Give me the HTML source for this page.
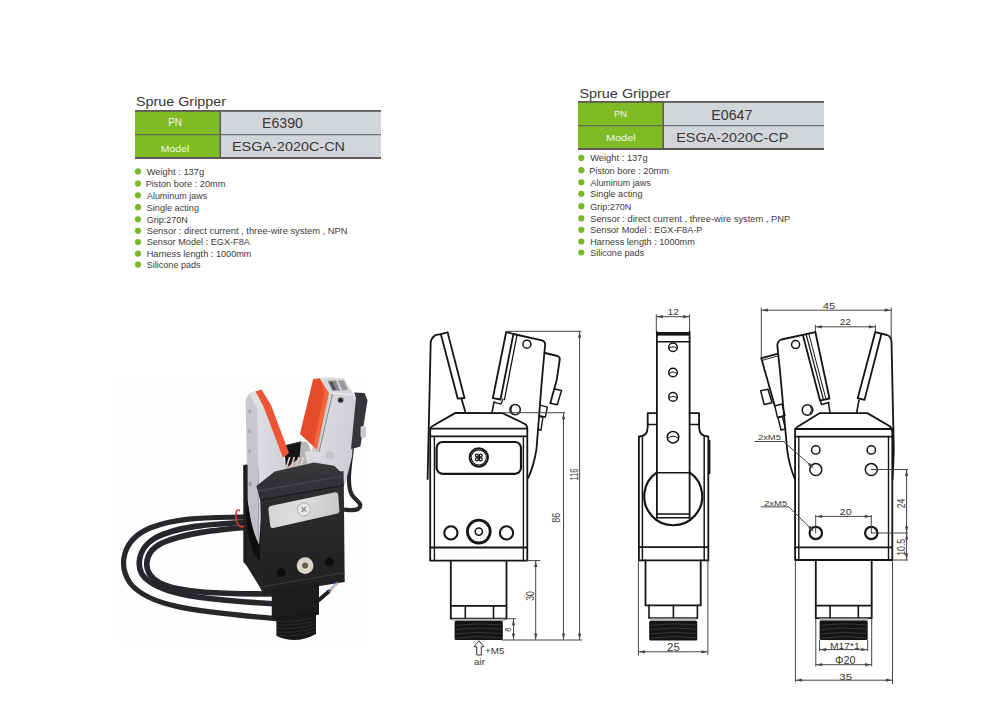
<!DOCTYPE html>
<html><head><meta charset="utf-8">
<style>
html,body{margin:0;padding:0;background:#fff;width:994px;height:710px;overflow:hidden}
svg{display:block;font-family:"Liberation Sans",sans-serif}
</style></head><body>
<svg width="994" height="710" viewBox="0 0 994 710">
<!-- LEFT SPEC BLOCK -->
<g id="specL">
<text x="136" y="106" font-size="12.2" textLength="90" lengthAdjust="spacingAndGlyphs" fill="#3a3434">Sprue Gripper</text>
<rect x="135" y="110" width="246" height="49" fill="#5e5858"/>
<rect x="135" y="111.8" width="84.5" height="22.4" fill="#7ebb25"/>
<rect x="135" y="135.2" width="84.5" height="21.8" fill="#7ebb25"/>
<rect x="221" y="111.8" width="160" height="22.4" fill="#d2d6da"/>
<rect x="221" y="135.2" width="160" height="21.8" fill="#d2d6da"/>
<text x="175.1" y="126" font-size="10" textLength="13.8" lengthAdjust="spacingAndGlyphs" text-anchor="middle" fill="#f4f8ee">PN</text>
<text x="175" y="151.8" font-size="9.6" text-anchor="middle" fill="#f4f8ee" textLength="28.7" lengthAdjust="spacingAndGlyphs">Model</text>
<text x="262" y="127.7" font-size="14" textLength="41" lengthAdjust="spacingAndGlyphs" fill="#3a3434">E6390</text>
<text x="232" y="150.8" font-size="12.8" textLength="113" lengthAdjust="spacingAndGlyphs" fill="#3a3434">ESGA-2020C-CN</text>
</g>
<g id="specR">
<text x="579.4" y="97.5" font-size="12.2" textLength="90.6" lengthAdjust="spacingAndGlyphs" fill="#3a3434">Sprue Gripper</text>
<rect x="578" y="101" width="246" height="49" fill="#5e5858"/>
<rect x="578" y="102.8" width="84.5" height="22.4" fill="#7ebb25"/>
<rect x="578" y="126.2" width="84.5" height="21.8" fill="#7ebb25"/>
<rect x="664" y="102.8" width="160" height="22.4" fill="#d2d6da"/>
<rect x="664" y="126.2" width="160" height="21.8" fill="#d2d6da"/>
<text x="620.5" y="117.3" font-size="9.4" textLength="13.2" lengthAdjust="spacingAndGlyphs" text-anchor="middle" fill="#f4f8ee">PN</text>
<text x="620.8" y="141.2" font-size="9.6" text-anchor="middle" fill="#f4f8ee" textLength="29.6" lengthAdjust="spacingAndGlyphs">Model</text>
<text x="711.3" y="119.9" font-size="14" textLength="41" lengthAdjust="spacingAndGlyphs" fill="#3a3434">E0647</text>
<text x="676.2" y="142.1" font-size="12.8" textLength="112.1" lengthAdjust="spacingAndGlyphs" fill="#3a3434">ESGA-2020C-CP</text>
</g>
<g id="bullets">
<circle cx="138" cy="171.4" r="3.1" fill="#78b82a"/>
<text x="146.7" y="174.7" font-size="8.2" textLength="57.5" lengthAdjust="spacingAndGlyphs" fill="#403a3a">Weight : 137g</text>
<circle cx="138" cy="183.6" r="3.1" fill="#78b82a"/>
<text x="145.7" y="186.9" font-size="8.2" textLength="79.7" lengthAdjust="spacingAndGlyphs" fill="#403a3a">Piston bore : 20mm</text>
<circle cx="138" cy="195.3" r="3.1" fill="#78b82a"/>
<text x="146.9" y="198.6" font-size="8.2" textLength="60.4" lengthAdjust="spacingAndGlyphs" fill="#403a3a">Aluminum jaws</text>
<circle cx="138" cy="207.2" r="3.1" fill="#78b82a"/>
<text x="146.7" y="210.5" font-size="8.2" textLength="52.3" lengthAdjust="spacingAndGlyphs" fill="#403a3a">Single acting</text>
<circle cx="138" cy="219.3" r="3.1" fill="#78b82a"/>
<text x="146.7" y="222.6" font-size="8.2" textLength="41.1" lengthAdjust="spacingAndGlyphs" fill="#403a3a">Grip:270N</text>
<circle cx="138" cy="230.8" r="3.1" fill="#78b82a"/>
<text x="146.7" y="234.1" font-size="8.2" textLength="200.8" lengthAdjust="spacingAndGlyphs" fill="#403a3a">Sensor : direct current , three-wire system , NPN</text>
<circle cx="138" cy="242.0" r="3.1" fill="#78b82a"/>
<text x="146.7" y="245.3" font-size="8.2" textLength="103.2" lengthAdjust="spacingAndGlyphs" fill="#403a3a">Sensor Model : EGX-F8A</text>
<circle cx="138" cy="253.7" r="3.1" fill="#78b82a"/>
<text x="146.7" y="257.0" font-size="8.2" textLength="104.8" lengthAdjust="spacingAndGlyphs" fill="#403a3a">Harness length : 1000mm</text>
<circle cx="138" cy="264.6" r="3.1" fill="#78b82a"/>
<text x="146.7" y="267.9" font-size="8.2" textLength="53.9" lengthAdjust="spacingAndGlyphs" fill="#403a3a">Silicone pads</text>
<circle cx="581.3" cy="157.9" r="3.1" fill="#78b82a"/>
<text x="590.2" y="161.2" font-size="8.2" textLength="57.5" lengthAdjust="spacingAndGlyphs" fill="#403a3a">Weight : 137g</text>
<circle cx="581.3" cy="170.2" r="3.1" fill="#78b82a"/>
<text x="589.2" y="173.5" font-size="8.2" textLength="79.7" lengthAdjust="spacingAndGlyphs" fill="#403a3a">Piston bore : 20mm</text>
<circle cx="581.3" cy="182.3" r="3.1" fill="#78b82a"/>
<text x="590.4" y="185.6" font-size="8.2" textLength="60.4" lengthAdjust="spacingAndGlyphs" fill="#403a3a">Aluminum jaws</text>
<circle cx="581.3" cy="193.8" r="3.1" fill="#78b82a"/>
<text x="590.2" y="197.1" font-size="8.2" textLength="52.3" lengthAdjust="spacingAndGlyphs" fill="#403a3a">Single acting</text>
<circle cx="581.3" cy="206.2" r="3.1" fill="#78b82a"/>
<text x="590.2" y="209.5" font-size="8.2" textLength="41.2" lengthAdjust="spacingAndGlyphs" fill="#403a3a">Grip:270N</text>
<circle cx="581.3" cy="218.4" r="3.1" fill="#78b82a"/>
<text x="590.2" y="221.7" font-size="8.2" textLength="200.1" lengthAdjust="spacingAndGlyphs" fill="#403a3a">Sensor : direct current , three-wire system , PNP</text>
<circle cx="581.3" cy="229.8" r="3.1" fill="#78b82a"/>
<text x="590.2" y="233.1" font-size="8.2" textLength="112.2" lengthAdjust="spacingAndGlyphs" fill="#403a3a">Sensor Model : EGX-F8A-P</text>
<circle cx="581.3" cy="241.5" r="3.1" fill="#78b82a"/>
<text x="590.2" y="244.8" font-size="8.2" textLength="104.6" lengthAdjust="spacingAndGlyphs" fill="#403a3a">Harness length : 1000mm</text>
<circle cx="581.3" cy="252.5" r="3.1" fill="#78b82a"/>
<text x="590.2" y="255.8" font-size="8.2" textLength="53.9" lengthAdjust="spacingAndGlyphs" fill="#403a3a">Silicone pads</text>
</g>

<g id="d1" fill="none" stroke-linejoin="round" stroke-linecap="round">
<path d="M427.6 479 L430.7 342 Q431.5 338 435.2 335.2 L440.8 334.1 L447.6 332.4" stroke="#151515" stroke-width="1.8" fill="none"/>
<path d="M440.8 334.1 L457.7 398.6 L464.5 398 L447.6 332.4" stroke="#151515" stroke-width="1.8" fill="none"/>
<path d="M461.5 399 L465.6 412.7" stroke="#151515" stroke-width="1.8" fill="none"/>
<path d="M506.2 332 L492.8 398.2 L500.5 399.5 L513.4 334 Z" stroke="#151515" stroke-width="1.8" fill="none"/>
<path d="M517 335 L504.5 399.5" stroke="#151515" stroke-width="1.3" fill="none"/>
<path d="M494 402 L492 412.7" stroke="#151515" stroke-width="1.6" fill="none"/>
<path d="M494 402 L501 404 L503 399" stroke="#151515" stroke-width="1.3" fill="none"/>
<path d="M513.4 334 L542 340.4 Q546 342 545 346 L541.9 380 L536.5 449 Q534 465 528.2 478" stroke="#151515" stroke-width="1.8" fill="none"/>
<path d="M545 353 L557.5 356 Q560.5 357.5 559.7 360 L556.7 380 L550.3 403.2" stroke="#151515" stroke-width="1.8" fill="none"/>
<path d="M554.7 388.9 L561.6 390.4 L557.2 404.7 L550.3 403.2" stroke="#151515" stroke-width="1.5" fill="none"/>
<path d="M540 405.1 L547.3 407.1 L545.4 417 L539 415.7" stroke="#151515" stroke-width="1.4" fill="none"/>
<path d="M539 416 L542.9 417.5 L540.9 430.3 L538 429" stroke="#151515" stroke-width="1.4" fill="none"/>
<circle cx="526.9" cy="344.2" r="4" stroke="#151515" stroke-width="1.5"/>
<circle cx="515.1" cy="409.6" r="5.2" stroke="#151515" stroke-width="1.5"/>
<path d="M512 405.5 Q509.5 410 512.5 414" stroke="#151515" stroke-width="1"/>
<path d="M430.2 560.6 L430.2 429.5 Q430.5 427 433 425.8 L455.5 412.9 L502.7 413.2 L524.5 423.8 Q527.3 425.5 527.3 429 L527.3 560.6 Z" stroke="#151515" stroke-width="1.8" fill="none"/>
<path d="M430.2 428.7 H527.3 M430.2 436.3 H527.3 M430.2 547.5 H527.3" stroke="#151515" stroke-width="1.8" fill="none"/>
<path d="M434.4 436.3 V560.6 M523.4 436.3 V560.6" stroke="#151515" stroke-width="1.4" fill="none"/>
<rect x="436.6" y="442" width="84.4" height="31.8" rx="6" stroke="#151515" stroke-width="2.2"/>
<circle cx="478.8" cy="457.5" r="9.2" stroke="#151515" stroke-width="1.9"/>
<circle cx="478.8" cy="457.5" r="7.6" stroke="#151515" stroke-width="1.1"/>
<circle cx="476.90000000000003" cy="455.6" r="1.45" stroke="#151515" stroke-width="1.3"/>
<circle cx="480.7" cy="455.6" r="1.45" stroke="#151515" stroke-width="1.3"/>
<circle cx="476.90000000000003" cy="459.4" r="1.45" stroke="#151515" stroke-width="1.3"/>
<circle cx="480.7" cy="459.4" r="1.45" stroke="#151515" stroke-width="1.3"/>
<rect x="477.6" y="456.3" width="2.4" height="2.4" fill="#151515" stroke="none"/>
<circle cx="450.9" cy="532.9" r="6.6" stroke="#151515" stroke-width="2.1"/>
<circle cx="506.5" cy="532.9" r="6.6" stroke="#151515" stroke-width="2.1"/>
<circle cx="478.8" cy="531.6" r="11.4" stroke="#151515" stroke-width="2.8"/>
<circle cx="478.8" cy="531.6" r="3.6" stroke="#151515" stroke-width="1.6"/>
<path d="M450.8 560.6 V618.6 H506.5 V560.6" stroke="#151515" stroke-width="1.8" fill="none"/>
<path d="M450.8 605.9 H506.5 M465.3 605.9 V618.6 M493.5 605.9 V618.6" stroke="#151515" stroke-width="1.6" fill="none"/>
<rect x="452.5" y="618.8" width="52" height="2.2" fill="#bdbdbd" stroke="none"/>
<rect x="454.6" y="620.8" width="48.2" height="19.2" rx="1.5" fill="#141414" stroke="none"/>
<path d="M456 625.2 Q478 622.5 501 624.8" stroke="#3a3a3a" stroke-width="0.9"/>
<path d="M456 629.5 Q478 626.8 501 629.0999999999999" stroke="#3a3a3a" stroke-width="0.9"/>
<path d="M456 633.8000000000001 Q478 631.1 501 633.4" stroke="#3a3a3a" stroke-width="0.9"/>
<path d="M456 638.1 Q478 635.4 501 637.6999999999999" stroke="#3a3a3a" stroke-width="0.9"/>
<line x1="507" y1="331.3" x2="581" y2="331.3" stroke="#4a4242" stroke-width="1"/>
<line x1="579.6" y1="331.8" x2="579.6" y2="639.5" stroke="#4a4242" stroke-width="1"/><path d="M579.6 331.8 L581.2 337.8 L578.0 337.8Z" fill="#4a4242"/><path d="M579.6 639.5 L578.0 633.5 L581.2 633.5Z" fill="#4a4242"/>
<line x1="502" y1="412.7" x2="565" y2="412.7" stroke="#4a4242" stroke-width="1"/>
<line x1="563.5" y1="413.2" x2="563.5" y2="639.5" stroke="#4a4242" stroke-width="1"/><path d="M563.5 413.2 L565.1 419.2 L561.9 419.2Z" fill="#4a4242"/><path d="M563.5 639.5 L561.9 633.5 L565.1 633.5Z" fill="#4a4242"/>
<line x1="527" y1="560.6" x2="540" y2="560.6" stroke="#4a4242" stroke-width="1"/>
<line x1="535.7" y1="561.1" x2="535.7" y2="639.5" stroke="#4a4242" stroke-width="1"/><path d="M535.7 561.1 L537.3 567.1 L534.1 567.1Z" fill="#4a4242"/><path d="M535.7 639.5 L534.1 633.5 L537.3 633.5Z" fill="#4a4242"/>
<line x1="503" y1="618.7" x2="515.6" y2="618.7" stroke="#4a4242" stroke-width="1"/>
<line x1="513.5" y1="619.2" x2="513.5" y2="639.5" stroke="#4a4242" stroke-width="1"/><path d="M513.5 619.2 L515.1 625.2 L511.9 625.2Z" fill="#4a4242"/><path d="M513.5 639.5 L511.9 633.5 L515.1 633.5Z" fill="#4a4242"/>
<line x1="502.3" y1="640" x2="581.8" y2="640" stroke="#4a4242" stroke-width="1"/>
</g>
<text transform="translate(574.2 474.6) rotate(-90)" x="0" y="3.78" text-anchor="middle" font-size="10.5" textLength="12" lengthAdjust="spacingAndGlyphs" fill="#3c3636">116</text>
<text transform="translate(556.3 517.8) rotate(-90)" x="0" y="3.89" text-anchor="middle" font-size="10.8" textLength="10" lengthAdjust="spacingAndGlyphs" fill="#3c3636">86</text>
<text transform="translate(530.2 595.9) rotate(-90)" x="0" y="3.89" text-anchor="middle" font-size="10.8" textLength="9.7" lengthAdjust="spacingAndGlyphs" fill="#3c3636">30</text>
<text transform="translate(508 629.7) rotate(-90)" x="0" y="3.35" text-anchor="middle" font-size="9.3" textLength="4.2" lengthAdjust="spacingAndGlyphs" fill="#3c3636">8</text>
<path d="M479 640.8 L484 646.7 L481.3 646.7 L481.3 655 L476.7 655 L476.7 646.7 L474 646.7 Z" fill="none" stroke="#333" stroke-width="1"/>
<text x="485" y="654.4" font-size="9.2" textLength="19.4" lengthAdjust="spacingAndGlyphs" fill="#3c3636">+M5</text>
<text x="474" y="665.4" font-size="9.6" textLength="11" lengthAdjust="spacingAndGlyphs" fill="#3c3636">air</text>
<g id="d2" fill="none" stroke-linejoin="round" stroke-linecap="round">
<line x1="656.3" y1="314.6" x2="656.3" y2="332" stroke="#4a4242" stroke-width="1"/>
<line x1="689.6" y1="314.6" x2="689.6" y2="332" stroke="#4a4242" stroke-width="1"/>
<line x1="656.8" y1="316.7" x2="689.1" y2="316.7" stroke="#4a4242" stroke-width="1"/><path d="M656.8 316.7 L662.8 315.1 L662.8 318.3Z" fill="#4a4242"/><path d="M689.1 316.7 L683.1 318.3 L683.1 315.1Z" fill="#4a4242"/>
<path d="M656.9 332 V518 M689.6 332 V518" stroke="#151515" stroke-width="1.8" fill="none"/>
<rect x="656.9" y="332" width="32.7" height="3.6" fill="#151515" stroke="none"/>
<path d="M656.9 341.7 H689.6" stroke="#151515" stroke-width="1.6" fill="none"/>
<circle cx="673" cy="347.3" r="4.3" stroke="#151515" stroke-width="1.5"/>
<path d="M669.5 348.1 Q673 345.15000000000003 676.5 348.1" stroke="#151515" stroke-width="1"/>
<circle cx="673" cy="372.5" r="4.3" stroke="#151515" stroke-width="1.5"/>
<path d="M669.5 373.3 Q673 370.35 676.5 373.3" stroke="#151515" stroke-width="1"/>
<circle cx="673" cy="396.9" r="4.3" stroke="#151515" stroke-width="1.5"/>
<path d="M669.5 397.7 Q673 394.75 676.5 397.7" stroke="#151515" stroke-width="1"/>
<circle cx="673" cy="437.2" r="5.8" stroke="#151515" stroke-width="1.5"/>
<path d="M668.0 438.0 Q673 434.3 678.0 438.0" stroke="#151515" stroke-width="1"/>
<path d="M656.9 413.1 H647.7 V427 Q647.7 436.5 638.9 436.5 V560.4" stroke="#151515" stroke-width="1.8" fill="none"/>
<path d="M647.7 424.5 H656.9" stroke="#151515" stroke-width="1.6" fill="none"/>
<path d="M689.6 413.1 H699.1 V427 Q699.1 436.5 708.3 436.5 V560.4" stroke="#151515" stroke-width="1.8" fill="none"/>
<path d="M699.1 424.5 H689.6" stroke="#151515" stroke-width="1.6" fill="none"/>
<path d="M642.4 436.5 V547 M704.2 436.5 V547" stroke="#151515" stroke-width="1.5" fill="none"/>
<rect x="708" y="440" width="2.4" height="34" fill="#151515" stroke="none"/>
<path d="M656.9 472.8 H689.6 M656.9 514 H689.6 M656.9 517.8 H689.6" stroke="#151515" stroke-width="1.6" fill="none"/>
<path d="M656.9 472.3 A29 29 0 1 0 689.6 472.3" stroke="#151515" stroke-width="2.2"/>
<path d="M638.9 547.1 H708.3 M638.9 560.4 H708.3" stroke="#151515" stroke-width="1.8" fill="none"/>
<path d="M642.4 547.1 V560.4 M704.2 547.1 V560.4" stroke="#151515" stroke-width="1.5" fill="none"/>
<path d="M645.5 560.4 V605.4 H700.7 V560.4" stroke="#151515" stroke-width="1.8" fill="none"/>
<path d="M649 605.4 V618.1 H697.4 V605.4 M673.4 605.4 V618.1" stroke="#151515" stroke-width="1.6" fill="none"/>
<rect x="650" y="618.4" width="46" height="2.2" fill="#bdbdbd" stroke="none"/>
<rect x="649.2" y="620.7" width="48.1" height="19.7" rx="1.5" fill="#141414" stroke="none"/>
<path d="M651 625.2 Q673 622.5 696 624.8" stroke="#3a3a3a" stroke-width="0.9"/>
<path d="M651 629.5 Q673 626.8 696 629.0999999999999" stroke="#3a3a3a" stroke-width="0.9"/>
<path d="M651 633.8000000000001 Q673 631.1 696 633.4" stroke="#3a3a3a" stroke-width="0.9"/>
<path d="M651 638.1 Q673 635.4 696 637.6999999999999" stroke="#3a3a3a" stroke-width="0.9"/>
<line x1="638.4" y1="560.5" x2="638.4" y2="655.2" stroke="#4a4242" stroke-width="1"/>
<line x1="707.9" y1="560.5" x2="707.9" y2="654.4" stroke="#4a4242" stroke-width="1"/>
<line x1="638.9" y1="651.8" x2="707.4" y2="651.8" stroke="#4a4242" stroke-width="1"/><path d="M638.9 651.8 L644.9 650.2 L644.9 653.4Z" fill="#4a4242"/><path d="M707.4 651.8 L701.4 653.4 L701.4 650.2Z" fill="#4a4242"/>
</g>
<text x="673.2" y="315.2" font-size="9.4" textLength="11.3" lengthAdjust="spacingAndGlyphs" text-anchor="middle" fill="#3c3636">12</text>
<text x="667" y="650.8" font-size="10" textLength="12.8" lengthAdjust="spacingAndGlyphs" fill="#3c3636">25</text>
<g id="d3" fill="none" stroke-linejoin="round" stroke-linecap="round">
<line x1="761.3" y1="308" x2="761.3" y2="358" stroke="#4a4242" stroke-width="1"/>
<line x1="891.2" y1="308" x2="891.2" y2="340" stroke="#4a4242" stroke-width="1"/>
<line x1="761.8" y1="310.2" x2="890.7" y2="310.2" stroke="#4a4242" stroke-width="1"/><path d="M761.8 310.2 L767.8 308.6 L767.8 311.8Z" fill="#4a4242"/><path d="M890.7 310.2 L884.7 311.8 L884.7 308.6Z" fill="#4a4242"/>
<line x1="815.4" y1="325.2" x2="815.4" y2="332" stroke="#4a4242" stroke-width="1"/>
<line x1="875.4" y1="325.2" x2="875.4" y2="332" stroke="#4a4242" stroke-width="1"/>
<line x1="815.9" y1="326.8" x2="874.9" y2="326.8" stroke="#4a4242" stroke-width="1"/><path d="M815.9 326.8 L821.9 325.2 L821.9 328.4Z" fill="#4a4242"/><path d="M874.9 326.8 L868.9 328.4 L868.9 325.2Z" fill="#4a4242"/>
<path d="M815.4 332.2 L781.5 339.5 Q777.5 341 777.3 345.5 L779.9 370 L787.2 450 Q789 465 795 479.3" stroke="#151515" stroke-width="1.8" fill="none"/>
<circle cx="795.6" cy="344.6" r="4" stroke="#151515" stroke-width="1.5"/>
<path d="M815.4 332.2 L829.5 398.5 L820 400.6 L803 335.6" stroke="#151515" stroke-width="1.8" fill="none"/>
<path d="M806.3 335 L823.5 399.8" stroke="#151515" stroke-width="1.2" fill="none"/>
<path d="M809 334.5 L826 399.2" stroke="#151515" stroke-width="1.0" fill="none"/>
<path d="M820.5 401 L821.5 404.5 L829 402.5 M828.5 403 L830 412.8" stroke="#151515" stroke-width="1.5" fill="none"/>
<path d="M778.2 353.6 L761.3 358.2 L774.8 406" stroke="#151515" stroke-width="1.8" fill="none"/>
<path d="M777.8 356 L762.5 360.3" stroke="#151515" stroke-width="0.9" fill="none"/>
<path d="M760.7 390.8 L768 389.2 L772 402.7 L764.1 404.4 Z" stroke="#151515" stroke-width="1.5" fill="none"/>
<path d="M774.8 406 L782 404 L785 415.5 L777.5 417.5 Z" stroke="#151515" stroke-width="1.4" fill="none"/>
<path d="M778 417.5 L782.5 416.5 L785.5 429 L781 430 Z" stroke="#151515" stroke-width="1.4" fill="none"/>
<circle cx="807.5" cy="410" r="5.3" stroke="#151515" stroke-width="1.5"/>
<path d="M810.5 406 Q813 410 810.2 414" stroke="#151515" stroke-width="1"/>
<path d="M875.2 332.2 L857.7 398.2 L864.5 399.9 L881.4 334" stroke="#151515" stroke-width="1.8" fill="none"/>
<path d="M875.2 332.2 L887 335 Q891 336.5 891.5 341 L893.8 450 L892.6 479" stroke="#151515" stroke-width="1.8" fill="none"/>
<path d="M859 400 L856.6 413" stroke="#151515" stroke-width="1.6" fill="none"/>
<path d="M795.1 560 V430 Q795.5 427.5 798 426.5 L819.9 413.1 H867.3 L889 425.8 Q892.2 428 892.3 432 V560 Z" stroke="#151515" stroke-width="1.8" fill="none"/>
<path d="M795.1 429 H892.3 M795.1 436.6 H892.3 M795.1 547.3 H892.3" stroke="#151515" stroke-width="1.8" fill="none"/>
<path d="M798.8 436.6 V560 M888.5 436.6 V560" stroke="#151515" stroke-width="1.4" fill="none"/>
<circle cx="815.8" cy="449.9" r="4.2" stroke="#151515" stroke-width="1.5"/>
<circle cx="815.8" cy="469.6" r="6" stroke="#151515" stroke-width="1.5"/>
<circle cx="815.8" cy="533" r="6.2" stroke="#151515" stroke-width="2.2"/>
<circle cx="871.3" cy="449.9" r="4.2" stroke="#151515" stroke-width="1.5"/>
<circle cx="871.3" cy="469.6" r="6" stroke="#151515" stroke-width="1.5"/>
<circle cx="871.3" cy="533" r="6.2" stroke="#151515" stroke-width="2.2"/>
<path d="M815.8 560 V618.2 H871.7 V560" stroke="#151515" stroke-width="1.8" fill="none"/>
<path d="M815.8 605.6 H871.7 M830.1 605.6 V618.2 M858.3 605.6 V618.2" stroke="#151515" stroke-width="1.6" fill="none"/>
<rect x="819" y="618.4" width="49" height="2.2" fill="#bdbdbd" stroke="none"/>
<rect x="819.6" y="620.4" width="48.1" height="19.7" rx="1.5" fill="#141414" stroke="none"/>
<path d="M821 625.2 Q843 622.5 866 624.8" stroke="#3a3a3a" stroke-width="0.9"/>
<path d="M821 629.5 Q843 626.8 866 629.0999999999999" stroke="#3a3a3a" stroke-width="0.9"/>
<path d="M821 633.8000000000001 Q843 631.1 866 633.4" stroke="#3a3a3a" stroke-width="0.9"/>
<path d="M821 638.1 Q843 635.4 866 637.6999999999999" stroke="#3a3a3a" stroke-width="0.9"/>
<line x1="871.3" y1="469.5" x2="907.5" y2="469.5" stroke="#4a4242" stroke-width="1"/>
<line x1="871.5" y1="533" x2="907.5" y2="533" stroke="#4a4242" stroke-width="1"/>
<line x1="892.3" y1="560" x2="907.5" y2="560" stroke="#4a4242" stroke-width="1"/>
<line x1="906.6" y1="470" x2="906.6" y2="532.5" stroke="#4a4242" stroke-width="1"/><path d="M906.6 470.0 L908.2 476.0 L905.0 476.0Z" fill="#4a4242"/><path d="M906.6 532.5 L905.0 526.5 L908.2 526.5Z" fill="#4a4242"/>
<line x1="906.6" y1="533" x2="906.6" y2="560" stroke="#4a4242" stroke-width="1"/>
<path d="M906.6 533.5 L908.2 539.5 L905.0 539.5Z" fill="#4a4242"/>
<path d="M906.6 559.5 L905.0 553.5 L908.2 553.5Z" fill="#4a4242"/>
<line x1="815.7" y1="515.4" x2="815.7" y2="533" stroke="#4a4242" stroke-width="1"/>
<line x1="871.3" y1="515.4" x2="871.3" y2="533" stroke="#4a4242" stroke-width="1"/>
<line x1="816.2" y1="516.4" x2="870.8" y2="516.4" stroke="#4a4242" stroke-width="1"/><path d="M816.2 516.4 L822.2 514.8 L822.2 518.0Z" fill="#4a4242"/><path d="M870.8 516.4 L864.8 518.0 L864.8 514.8Z" fill="#4a4242"/>
<line x1="755" y1="441.5" x2="783.6" y2="441.5" stroke="#4a4242" stroke-width="1"/>
<line x1="783.6" y1="441.5" x2="813" y2="467.5" stroke="#4a4242" stroke-width="1"/>
<path d="M813.5 468.0 L807.9 465.2 L810.1 462.8Z" fill="#4a4242"/>
<line x1="761.4" y1="506.9" x2="788.7" y2="506.9" stroke="#4a4242" stroke-width="1"/>
<line x1="788.7" y1="506.9" x2="813" y2="530.5" stroke="#4a4242" stroke-width="1"/>
<path d="M813.5 531.0 L808.1 528.0 L810.3 525.7Z" fill="#4a4242"/>
<line x1="819.6" y1="640.5" x2="819.6" y2="650.6" stroke="#4a4242" stroke-width="1"/>
<line x1="867.7" y1="640.5" x2="867.7" y2="650.6" stroke="#4a4242" stroke-width="1"/>
<line x1="820.1" y1="649.6" x2="867.2" y2="649.6" stroke="#4a4242" stroke-width="1"/><path d="M820.1 649.6 L826.1 648.0 L826.1 651.2Z" fill="#4a4242"/><path d="M867.2 649.6 L861.2 651.2 L861.2 648.0Z" fill="#4a4242"/>
<line x1="815.8" y1="619" x2="815.8" y2="666.1" stroke="#4a4242" stroke-width="1"/>
<line x1="871.7" y1="619" x2="871.7" y2="666.1" stroke="#4a4242" stroke-width="1"/>
<line x1="816.3" y1="664.7" x2="871.2" y2="664.7" stroke="#4a4242" stroke-width="1"/><path d="M816.3 664.7 L822.3 663.1 L822.3 666.3Z" fill="#4a4242"/><path d="M871.2 664.7 L865.2 666.3 L865.2 663.1Z" fill="#4a4242"/>
<line x1="795.4" y1="560.5" x2="795.4" y2="681.6" stroke="#4a4242" stroke-width="1"/>
<line x1="892.5" y1="560.5" x2="892.5" y2="683.7" stroke="#4a4242" stroke-width="1"/>
<line x1="795.9" y1="680.2" x2="892" y2="680.2" stroke="#4a4242" stroke-width="1"/><path d="M795.9 680.2 L801.9 678.6 L801.9 681.8Z" fill="#4a4242"/><path d="M892.0 680.2 L886.0 681.8 L886.0 678.6Z" fill="#4a4242"/>
</g>
<text x="822.8" y="309.4" font-size="9.3" textLength="12.4" lengthAdjust="spacingAndGlyphs" fill="#3c3636">45</text>
<text x="839.7" y="325.4" font-size="9.3" textLength="11.3" lengthAdjust="spacingAndGlyphs" fill="#3c3636">22</text>
<text x="839.6" y="514.5" font-size="8.5" textLength="12.1" lengthAdjust="spacingAndGlyphs" fill="#3c3636">20</text>
<text x="757.9" y="440.1" font-size="7" textLength="23.1" lengthAdjust="spacingAndGlyphs" fill="#3c3636">2xM5</text>
<text x="764" y="505.7" font-size="7" textLength="23.4" lengthAdjust="spacingAndGlyphs" fill="#3c3636">2xM5</text>
<text transform="translate(901.8 503.4) rotate(-90)" x="0" y="3.60" text-anchor="middle" font-size="10" textLength="9.5" lengthAdjust="spacingAndGlyphs" fill="#3c3636">24</text>
<text transform="translate(901.5 547.3) rotate(-90)" x="0" y="3.60" text-anchor="middle" font-size="10" textLength="17" lengthAdjust="spacingAndGlyphs" fill="#3c3636">10.5</text>
<text x="830.1" y="649.2" font-size="8.5" textLength="29.6" lengthAdjust="spacingAndGlyphs" fill="#3c3636">M17*1</text>
<text x="835" y="663.7" font-size="10.8" textLength="20.5" lengthAdjust="spacingAndGlyphs" fill="#3c3636">Φ20</text>
<text x="839.3" y="679.5" font-size="8.5" textLength="12.7" lengthAdjust="spacingAndGlyphs" fill="#3c3636">35</text>
<g id="photo">
<defs>
<linearGradient id="gSil" x1="0" y1="0" x2="1" y2="0.3"><stop offset="0" stop-color="#dfe0e3"/><stop offset="1" stop-color="#cfd0d3"/></linearGradient>
<linearGradient id="gSide" x1="0" y1="0" x2="0" y2="1"><stop offset="0" stop-color="#cbcbcf"/><stop offset="1" stop-color="#bdbec2"/></linearGradient>
<linearGradient id="gLab" x1="0" y1="0" x2="1" y2="0.2"><stop offset="0" stop-color="#d2d3d5"/><stop offset="0.5" stop-color="#dcdddf"/><stop offset="1" stop-color="#c8c9cb"/></linearGradient>
<linearGradient id="gBlk" x1="0" y1="0" x2="0" y2="1"><stop offset="0" stop-color="#2e2e30"/><stop offset="1" stop-color="#1f1f21"/></linearGradient>
<linearGradient id="gCov" x1="0" y1="0" x2="0" y2="1"><stop offset="0" stop-color="#3a3a3c"/><stop offset="1" stop-color="#2a2a2c"/></linearGradient>
</defs>
<rect x="118" y="376" width="251" height="270" fill="#fefefe"/>
<path d="M250 516.8 C215 518 180 516 150 528 C122 540 118 565 130 583 C148 606 190 611 278 618.8" fill="none" stroke="#27272b" stroke-width="5.2" stroke-linecap="round"/>
<path d="M250 522 C215 524 180 525 155 538 C136 550 134 572 150 582 C170 596 210 600 278 604" fill="none" stroke="#27272b" stroke-width="5.6" stroke-linecap="round"/>
<path d="M250 527 C215 530 185 533 162 543 C142 553 142 574 160 583 C180 593 220 594 278 594" fill="none" stroke="#27272b" stroke-width="5.6" stroke-linecap="round"/>
<path d="M351.8 449.7 C349 470 347 486 352 495 C357 502 364 504 358 509 C354 511 349 510 344.8 509.6" fill="none" stroke="#27272b" stroke-width="4.2" stroke-linecap="round"/>
<path d="M243.5 465 L258 462 L263.5 500 L263.5 595 L260.4 588 L245.6 564.1 Z" fill="#232325"/>
<path d="M246 500 L258 498 L259.9 555.6 Q252 540 246 507 Z" fill="#0c0c0e"/>
<path d="M284 445.6 L301 441.5 L307 442 L312 452 L311 463 L286 470 Z" fill="#b9b5b5"/>
<path d="M284 445.6 L301 441.5 L299.5 458 L286 468 Z" fill="#141416"/>
<path d="M284.5 446 L301 442" stroke="#3a3a3e" stroke-width="1.2" fill="none"/>
<path d="M286.5 467.5 L289.7 457" stroke="#ddd0c2" stroke-width="1.7" fill="none"/>
<path d="M291.1 467.5 L294.3 457" stroke="#ddd0c2" stroke-width="1.7" fill="none"/>
<path d="M295.7 467.5 L298.9 457" stroke="#ddd0c2" stroke-width="1.7" fill="none"/>
<path d="M300.3 467.5 L303.5 457" stroke="#ddd0c2" stroke-width="1.7" fill="none"/>
<path d="M256.1 391.3 L266 406 L283 457 L287 470 L262 500 L259 545 L257.5 408.9 Z" fill="url(#gSil)"/>
<path d="M245.6 399.7 L249.1 393.4 L256.1 391.3 L257.5 408.9 L259 545 Q251 530 247.5 500 Z" fill="url(#gSide)"/>
<path d="M249.1 393.4 L256.1 391.3 L266 406 L257.5 408.9 Z" fill="#e2e2e4"/>
<ellipse cx="249.6" cy="411" rx="1.4" ry="2.2" fill="#a9a9ab"/>
<ellipse cx="249.6" cy="431.4" rx="1.4" ry="2.2" fill="#a9a9ab"/>
<ellipse cx="249.6" cy="451.1" rx="1.4" ry="2.2" fill="#a9a9ab"/>
<ellipse cx="249.6" cy="484" rx="1.4" ry="2.2" fill="#a9a9ab"/>
<path d="M243.3 466 L247.6 465 L247.2 566 L243.3 562 Z" fill="#1e1e20"/>
<path d="M247.5 500 Q251 530 259 545 L260 562 Q248 550 246.5 515 Z" fill="#0e0e10"/>
<path d="M255.5 391.5 L261.5 389.6 L271 405 L289 453 L283 458 L263.5 406.5 Z" fill="#ee5535"/>
<path d="M319.6 378.3 L324.5 377.6 L343.5 378.3 L352 391.7 L356.2 398.8 L352 456.5 L345 485 L311 485 L305 452 L316 449 Z" fill="url(#gSil)"/>
<path d="M324.5 377.6 L343.5 378.3 L352 391.7 L332.3 393.1 Z" fill="#dadadc"/>
<path d="M327.5 380.5 L336 380.5 L340 390.5 L332.5 391 Z" fill="#8a8a8e"/><path d="M329 382 L333 382 L336 390 L333 390 Z" fill="#555558"/><path d="M338 380.5 L344 380.5 L348 390 L342 390.5 Z" fill="#9a9a9e"/>
<path d="M332.3 393.1 L354.8 395.2 L356.2 398.8" fill="none" stroke="#f2f2f2" stroke-width="1"/>
<ellipse cx="340.7" cy="400" rx="3.3" ry="2.9" fill="#9a9a9c"/><ellipse cx="340.5" cy="400.2" rx="2.5" ry="2.2" fill="#222224"/>
<ellipse cx="330.1" cy="455.1" rx="4.4" ry="4" fill="#c4c4c6"/>
<path d="M320 392 L330 394 L318 452 L312 451 Z" fill="#c8c8ca"/>
<path d="M354.1 392.4 L364.6 393.1 L367.5 400.2 L360.4 446.6 L352.7 448.8 L351 449 L356 398 Z" fill="#35353a"/>
<rect x="360.5" y="426" width="5.5" height="12" rx="2" fill="#c9ccd2"/>
<path d="M313.2 379 L319.6 378.3 L328.7 393.1 L316.1 448.8 L299.9 434 Z" fill="#e44c2c"/>
<path d="M319.6 378.3 L328.7 393.1 L317 449.5 L313.5 447 L324.5 391 Z" fill="#f4643f"/>
<path d="M332.5 394 L319 452" stroke="#7a7a7e" stroke-width="0.9" fill="none"/>
<ellipse cx="250.4" cy="483.8" rx="1.6" ry="2.6" fill="#a0a0a2"/>
<path d="M256.4 486.1 L274.8 471.5 L314 462.6 L334.3 465.8 L342.6 474 L343.8 485.4 L260.2 500 Z" fill="url(#gCov)"/>
<path d="M260.2 500 L343.8 485.4 L344.7 581.9 L263.3 595 Z" fill="url(#gBlk)"/>
<path d="M257.5 486 L343.5 471 L343.8 485.4 L260.2 500 Z" fill="#333337"/>
<path d="M258 491 L343.5 476" stroke="#444448" stroke-width="1.4" fill="none"/>
<path d="M260.5 500 L343.8 485.4" stroke="#151517" stroke-width="1" fill="none"/>
<path d="M263.3 586.5 L344.7 572.6" stroke="#3a3a3c" stroke-width="1" fill="none"/>
<path d="M271.4 505.8 L335.1 492.3 Q338.1 491.8 338.2 494.8 L339.4 510.3 Q339.5 513.3 336.5 513.8 L273.3 528 Q270.3 528.5 270.2 525.5 L268.4 509.3 Q268.3 506.3 271.4 505.8 Z" fill="url(#gLab)"/>
<circle cx="303.9" cy="509.5" r="6.5" fill="#e8e8ea" stroke="#b4b4b6" stroke-width="1"/>
<path d="M301.5 507.5 L306.3 511.5 M306 507 L301.8 512" stroke="#8a8a8c" stroke-width="1.2"/>
<ellipse cx="281.1" cy="572.6" rx="4.6" ry="4.2" fill="#0c0c0e"/>
<ellipse cx="329.1" cy="561.7" rx="4.6" ry="4.2" fill="#0c0c0e"/>
<circle cx="305.1" cy="565.6" r="8.4" fill="#d9d5cd"/>
<circle cx="305.1" cy="565.6" r="3" fill="#6b5a48"/>
<path d="M271.8 590 L319 582 L319 614.4 L300 619 L271.8 619 Z" fill="#1c1c1e"/>
<path d="M276.4 617 L316 612 L316 634 Q296 645 276.4 636 Z" fill="#18181a"/>
<path d="M277 621.0 Q296 623.0 315.5 617.0" stroke="#2c2c2e" stroke-width="0.9" fill="none"/>
<path d="M277 624.6 Q296 626.6 315.5 620.6" stroke="#2c2c2e" stroke-width="0.9" fill="none"/>
<path d="M277 628.2 Q296 630.2 315.5 624.2" stroke="#2c2c2e" stroke-width="0.9" fill="none"/>
<path d="M277 631.8 Q296 633.8 315.5 627.8" stroke="#2c2c2e" stroke-width="0.9" fill="none"/>
<path d="M277 635.4 Q296 637.4 315.5 631.4" stroke="#2c2c2e" stroke-width="0.9" fill="none"/>
<path d="M319 600 L329.1 591.2" stroke="#1f1f21" stroke-width="3.8" stroke-linecap="round"/>
<path d="M328 592 L337 581.5" stroke="#4a88d0" stroke-width="1.1"/>
<path d="M329.5 592.5 L338.5 582.5" stroke="#e69a6a" stroke-width="1.1"/>
<path d="M236.5 511 Q234.5 519 238.5 525 Q241 528 244 526 M236.5 511 Q238 509 240 511" fill="none" stroke="#d83a2e" stroke-width="1.6"/>
</g></svg>
</body></html>
